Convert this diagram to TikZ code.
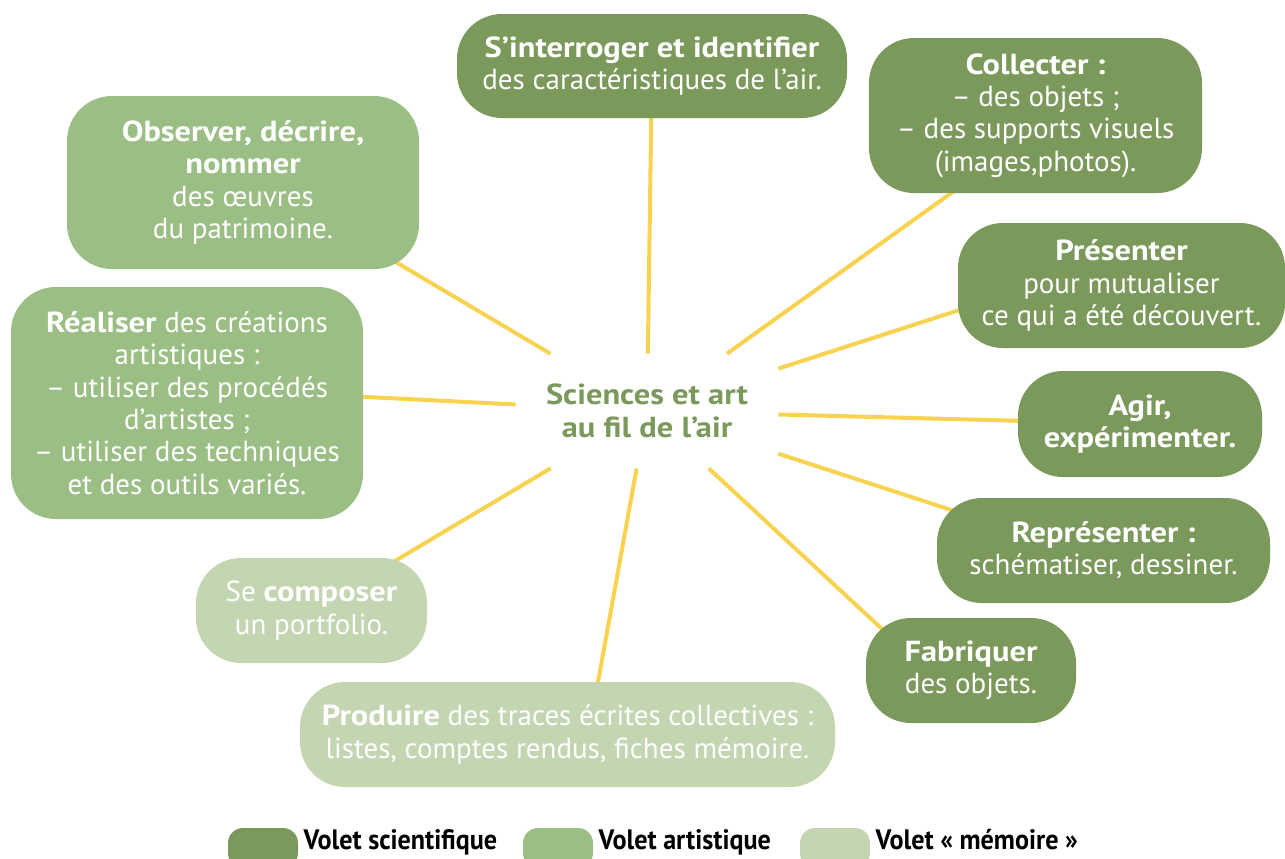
\documentclass[tikz,border=0pt]{standalone}
\usepackage{fontspec}
\setmainfont{PT Sans}[BoldFeatures={FakeStretch=1.12}]
\newfontfamily\legfont[FakeStretch=0.93]{PT Sans}
\usetikzlibrary{positioning,backgrounds}
\definecolor{scigreen}{HTML}{7A995B}
\definecolor{artgreen}{HTML}{9BBE85}
\definecolor{memgreen}{HTML}{C3D6B1}
\definecolor{raysun}{HTML}{F8D352}

\begin{document}
\begin{tikzpicture}[
  box/.style={rectangle, rounded corners=0.9cm, inner sep=0pt, align=center, text=white, font=\fontsize{16.5}{18.4}\selectfont},
  sci/.style={box, fill=scigreen},
  art/.style={box, fill=artgreen},
  mem/.style={box, fill=memgreen},
  ray/.style={raysun, line width=2.3pt},
  legbox/.style={rectangle, rounded corners=0.3cm, minimum width=1.4cm, minimum height=0.8cm},
  legtext/.style={inner sep=0pt, anchor=base west, font=\legfont\bfseries\fontsize{16}{18}\selectfont}
]
  \useasboundingbox (0,0) rectangle (25.7,-17.16);
  \clip (0,0) rectangle (25.7,-17.16);

  % centre
  \node[minimum width=5.24cm, minimum height=2.28cm, inner sep=0pt, align=center, text=scigreen, font=\bfseries\fontsize{16.5}{18.4}\selectfont] (hub) at (12.94,-8.22) {Sciences et art\\au fil de l’air};

  % volet scientifique
  \node[sci, minimum width=7.8cm,  minimum height=2.08cm] (interroger) at (13.04,-1.32) {\textbf{S’interroger et identifier}\\des caractéristiques de l’air.};
  \node[sci, minimum width=6.66cm, minimum height=3.1cm]  (collecter)  at (20.71,-2.31) {\textbf{Collecter :}\\– des objets ;\\– des supports visuels\\(images,photos).};
  \node[sci, minimum width=6.54cm, minimum height=2.5cm]  (presenter)  at (22.43,-5.71) {\textbf{Présenter}\\pour mutualiser\\ce qui a été découvert.};
  \node[sci, minimum width=4.88cm, minimum height=2.12cm] (agir)       at (22.80,-8.48) {\textbf{Agir,}\\\textbf{expérimenter.}};
  \node[sci, minimum width=6.66cm, minimum height=2.1cm]  (representer) at (22.07,-11.01) {\textbf{Représenter :}\\schématiser, dessiner.};
  \node[sci, minimum width=4.2cm,  minimum height=2.1cm]  (fabriquer)  at (19.42,-13.41) {\textbf{Fabriquer}\\des objets.};

  % volet artistique
  \node[art, minimum width=7.04cm, minimum height=3.46cm] (observer)  at (4.86,-3.65) {\textbf{Observer, décrire,}\\\textbf{nommer}\\des œuvres\\du patrimoine.};
  \node[art, minimum width=7.04cm, minimum height=4.64cm] (realiser)  at (3.74,-8.06) {\textbf{Réaliser} des créations\\artistiques :\\– utiliser des procédés\\d’artistes ;\\– utiliser des techniques\\et des outils variés.};

  % volet memoire
  \node[mem, minimum width=4.62cm, minimum height=2.1cm]  (composer)  at (6.23,-12.21) {Se \textbf{composer}\\un portfolio.};
  \node[mem, minimum width=10.7cm, minimum height=2.1cm]  (produire)  at (11.35,-14.69) {\textbf{Produire} des traces écrites collectives :\\listes, comptes rendus, fiches mémoire.};

  \begin{scope}[on background layer]
    \draw[ray] (hub) -- (interroger.center);
    \draw[ray] (hub) -- ([xshift=0.48cm]collecter.center);
    \draw[ray] (hub) -- ([yshift=0.56cm]presenter.center);
    \draw[ray] (hub) -- (agir.center);
    \draw[ray] (hub) -- ([yshift=-0.18cm]representer.center);
    \draw[ray] (hub) -- ([yshift=-0.82cm]fabriquer.center);
    \draw[ray] (hub) -- ([xshift=0.42cm]produire.center);
    \draw[ray] (hub) -- (composer.center);
    \draw[ray] (hub) -- ([yshift=0.3cm]realiser.center);
    \draw[ray] (hub) -- ([yshift=0.22cm]observer.center);
  \end{scope}

  % legende
  \node[legbox, fill=scigreen] (legsci) at (5.26,-16.96) {};
  \node[legtext] (legscitxt) at ([xshift=0.1cm]legsci.east |- 0,-16.99) {Volet scientifique};
  \node[legbox, fill=artgreen] (legart) at (11.16,-16.96) {};
  \node[legtext] (legarttxt) at ([xshift=0.1cm]legart.east |- 0,-16.99) {Volet artistique};
  \node[legbox, fill=memgreen] (legmem) at (16.70,-16.96) {};
  \node[legtext] (legmemtxt) at ([xshift=0.1cm]legmem.east |- 0,-16.99) {Volet « mémoire »};
\end{tikzpicture}
\end{document}
